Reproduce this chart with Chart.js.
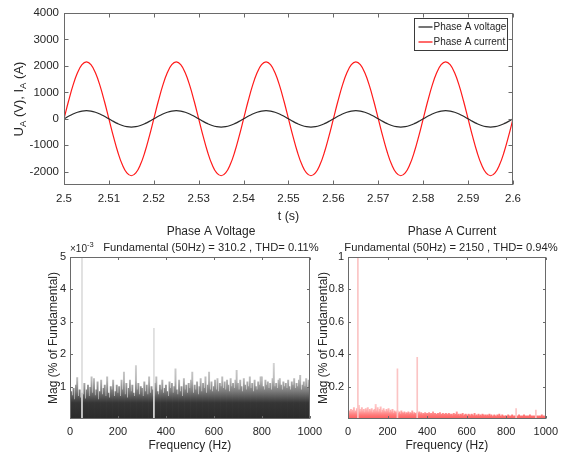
<!DOCTYPE html>
<html>
<head>
<meta charset="utf-8">
<script src="https://cdn.jsdelivr.net/npm/chart.js@4.4.1/dist/chart.umd.min.js"></script>
<style>
  html, body { margin: 0; padding: 0; background: #fff; }
  body { width: 564px; height: 453px; position: relative; overflow: hidden; }
  canvas { position: absolute; }
  #wave  { left: 0;     top: 0; }
  #specU { left: 0;     top: 218px; }
  #specI { left: 316px; top: 218px; }
</style>
</head>
<body>
<canvas id="wave" width="564" height="228" style="width:564px;height:228px"></canvas>
<canvas id="specU" width="328" height="235" style="width:328px;height:235px"></canvas>
<canvas id="specI" width="248" height="235" style="width:248px;height:235px"></canvas>
<script>
// ---- time domain, sampled every 1 ms from t = 2.5 s ----
const tStart = 2.5, tStep = 0.001;
const voltageWave = [
  0, 96, 182, 251, 295, 310, 295, 251, 182, 96, 0, -96, -182, -251, -295, -310, -295, -251, -182, -96,
  0, 96, 182, 251, 295, 310, 295, 251, 182, 96, 0, -96, -182, -251, -295, -310, -295, -251, -182, -96,
  0, 96, 182, 251, 295, 310, 295, 251, 182, 96, 0, -96, -182, -251, -295, -310, -295, -251, -182, -96,
  0, 96, 182, 251, 295, 310, 295, 251, 182, 96, 0, -96, -182, -251, -295, -310, -295, -251, -182, -96,
  0, 96, 182, 251, 295, 310, 295, 251, 182, 96, 0, -96, -182, -251, -295, -310, -295, -251, -182, -96,
  0
];
const currentWave = [
  0, 664, 1264, 1739, 2045, 2150, 2045, 1739, 1264, 664, 0, -664, -1264, -1739, -2045, -2150, -2045, -1739, -1264, -664,
  0, 664, 1264, 1739, 2045, 2150, 2045, 1739, 1264, 664, 0, -664, -1264, -1739, -2045, -2150, -2045, -1739, -1264, -664,
  0, 664, 1264, 1739, 2045, 2150, 2045, 1739, 1264, 664, 0, -664, -1264, -1739, -2045, -2150, -2045, -1739, -1264, -664,
  0, 664, 1264, 1739, 2045, 2150, 2045, 1739, 1264, 664, 0, -664, -1264, -1739, -2045, -2150, -2045, -1739, -1264, -664,
  0, 664, 1264, 1739, 2045, 2150, 2045, 1739, 1264, 664, 0, -664, -1264, -1739, -2045, -2150, -2045, -1739, -1264, -664,
  0
];
const timeTicks = [2.5, 2.51, 2.52, 2.53, 2.54, 2.55, 2.56, 2.57, 2.58, 2.59, 2.6];
const timeTickLabels = ['2.5', '2.51', '2.52', '2.53', '2.54', '2.55', '2.56', '2.57', '2.58', '2.59', '2.6'];
const waveTicks = [-2000, -1000, 0, 1000, 2000, 3000, 4000];

// ---- spectra: 5 Hz bins from 0 to 995 Hz ----
const binStep = 5;
// voltage noise floor, % of fundamental, in units of 1e-3
const voltNoiseE3 = [
  1.35, 0.85, 0.72, 0.95, 0.60, 1.05, 1.28, 0.70, 0.90, 0.65, 0.80, 0.75, 1.10, 0.62, 0.90, 1.05, 0.70, 0.98, 1.30, 0.80,
  1.25, 0.72, 0.90, 1.15, 0.60, 0.85, 1.20, 0.75, 0.95, 1.05, 0.70, 1.30, 0.80, 0.65, 1.00, 0.90, 1.20, 0.70, 0.85, 1.05,
  0.80, 1.00, 0.70, 1.20, 0.90, 1.45, 0.75, 1.10, 0.65, 0.95, 1.20, 0.85, 1.05, 0.80, 0.70, 1.65, 0.90, 1.10, 0.75, 1.00,
  0.95, 0.70, 1.15, 0.85, 1.05, 0.75, 1.30, 0.80, 1.00, 0.90, 0.70, 1.10, 1.30, 0.85, 0.75, 1.05, 0.90, 1.20, 0.80, 0.95,
  1.05, 0.85, 0.70, 1.15, 0.95, 1.10, 0.80, 1.00, 1.55, 0.90, 0.75, 1.20, 0.85, 1.00, 0.70, 1.25, 0.90, 1.05, 0.80, 1.10,
  0.95, 1.20, 1.45, 0.80, 1.05, 0.90, 1.15, 0.75, 1.00, 1.25, 0.85, 1.10, 0.95, 1.30, 0.80, 1.05, 1.45, 0.90, 1.15, 0.85,
  1.00, 1.20, 0.90, 1.25, 0.85, 1.10, 1.00, 1.30, 0.95, 1.15, 0.90, 1.20, 1.05, 0.85, 1.25, 1.00, 1.10, 0.95, 1.20, 1.50,
  1.10, 0.90, 1.20, 1.00, 0.85, 1.25, 1.05, 0.90, 1.15, 1.00, 1.30, 0.95, 1.10, 0.85, 1.20, 1.00, 0.90, 1.15, 1.05, 1.30,
  1.30, 1.00, 0.90, 1.20, 1.05, 1.15, 0.95, 1.10, 0.90, 1.25, 1.72, 1.00, 1.10, 0.95, 1.20, 1.25, 1.05, 0.90, 1.15, 1.00,
  1.10, 0.95, 1.20, 1.00, 0.90, 1.15, 1.05, 1.25, 0.95, 1.10, 1.00, 1.20, 1.35, 0.90, 1.05, 1.15, 1.00, 1.25, 0.95, 1.20
];
const voltHarmFreq = [50, 350];
const voltHarmE3 = [100000, 2.8];
const voltTicks = [1, 2, 3, 4, 5];

// current noise floor, % of fundamental
const curNoise = [
  0.040, 0.050, 0.035, 0.060, 0.045, 0.055, 0.070, 0.040, 0.050, 0.065, 0.050, 0.085, 0.060, 0.045, 0.070, 0.050, 0.060, 0.040, 0.065, 0.055,
  0.070, 0.045, 0.060, 0.050, 0.065, 0.040, 0.055, 0.060, 0.090, 0.050, 0.070, 0.045, 0.060, 0.075, 0.040, 0.055, 0.065, 0.050, 0.045, 0.060,
  0.050, 0.065, 0.040, 0.055, 0.045, 0.060, 0.035, 0.050, 0.045, 0.040, 0.050, 0.035, 0.045, 0.030, 0.050, 0.040, 0.035, 0.045, 0.030, 0.040,
  0.035, 0.045, 0.030, 0.040, 0.035, 0.050, 0.030, 0.040, 0.035, 0.030, 0.040, 0.035, 0.045, 0.030, 0.040, 0.025, 0.035, 0.030, 0.040, 0.030,
  0.035, 0.030, 0.040, 0.025, 0.035, 0.030, 0.045, 0.025, 0.035, 0.030, 0.025, 0.035, 0.030, 0.040, 0.025, 0.030, 0.035, 0.025, 0.030, 0.035,
  0.030, 0.025, 0.035, 0.030, 0.025, 0.030, 0.020, 0.035, 0.025, 0.030, 0.045, 0.025, 0.030, 0.020, 0.030, 0.025, 0.035, 0.020, 0.025, 0.030,
  0.025, 0.020, 0.030, 0.025, 0.020, 0.030, 0.025, 0.020, 0.035, 0.020, 0.025, 0.020, 0.030, 0.020, 0.025, 0.020, 0.030, 0.025, 0.020, 0.025,
  0.020, 0.025, 0.020, 0.030, 0.020, 0.025, 0.015, 0.020, 0.025, 0.020, 0.015, 0.025, 0.020, 0.030, 0.020, 0.015, 0.025, 0.020, 0.015, 0.020,
  0.020, 0.015, 0.025, 0.020, 0.015, 0.020, 0.025, 0.015, 0.020, 0.015, 0.020, 0.015, 0.020, 0.025, 0.015, 0.020, 0.015, 0.020, 0.025, 0.015,
  0.020, 0.015, 0.020, 0.015, 0.025, 0.015, 0.020, 0.015, 0.020, 0.015, 0.020, 0.015, 0.020, 0.015, 0.020, 0.015, 0.025, 0.015, 0.020, 0.015
];
const curHarmFreq = [50, 250, 350, 850, 950];
const curHarm = [100, 0.31, 0.38, 0.065, 0.055];
const curTicks = [0.2, 0.4, 0.6, 0.8, 1];
const curTickLabels = ['0.2', '0.4', '0.6', '0.8', '1'];
const freqTicks = [0, 200, 400, 600, 800, 1000];

const FONT = "'Liberation Sans', Arial, Helvetica, sans-serif";
const INK = '#262626';
Chart.defaults.font.family = FONT;
Chart.defaults.color = INK;

const pts = (xs, ys) => ys.map((y, i) => ({ x: xs[i], y }));
const tSamples = voltageWave.map((_, i) => +(tStart + i * tStep).toFixed(3));
const fBins = voltNoiseE3.map((_, i) => i * binStep);

// axes box with inward tick marks on all four sides
const frame = {
  id: 'frame',
  afterDatasetsDraw(chart, args, o) {
    const { ctx, chartArea: a, scales: { x, y } } = chart;
    const L = Math.round(a.left) + 0.5, R = Math.round(a.right) - 0.5;
    const T = Math.round(a.top) + 0.5, B = Math.round(a.bottom) - 0.5;
    ctx.save();
    ctx.strokeStyle = o.color;
    ctx.lineWidth = 1;
    ctx.strokeRect(L, T, R - L, B - T);
    ctx.beginPath();
    x.ticks.forEach(t => {
      const px = Math.round(x.getPixelForValue(t.value)) + 0.5;
      ctx.moveTo(px, B); ctx.lineTo(px, B - o.len);
      ctx.moveTo(px, T); ctx.lineTo(px, T + o.len);
    });
    y.ticks.forEach(t => {
      const py = Math.round(y.getPixelForValue(t.value)) + 0.5;
      ctx.moveTo(L, py); ctx.lineTo(L + o.len, py);
      ctx.moveTo(R, py); ctx.lineTo(R - o.len, py);
    });
    ctx.stroke();
    ctx.restore();
  }
};

// free text placed relative to the canvas; parts may be sub/superscripted
const notes = {
  id: 'notes',
  afterDraw(chart, args, o) {
    const ctx = chart.ctx;
    ctx.save();
    ctx.fillStyle = INK;
    (o.items || []).forEach(it => {
      let w = 0;
      it.parts.forEach(p => { ctx.font = p.size + 'px ' + FONT; w += ctx.measureText(p.text).width; });
      ctx.save();
      ctx.translate(it.x, it.y);
      if (it.rotate) ctx.rotate(-Math.PI / 2);
      ctx.textBaseline = 'alphabetic';
      let cx = it.align === 'left' ? 0 : -w / 2;
      it.parts.forEach(p => {
        ctx.font = p.size + 'px ' + FONT;
        ctx.fillText(p.text, cx, p.dy || 0);
        cx += ctx.measureText(p.text).width;
      });
      ctx.restore();
    });
    ctx.restore();
  }
};

// legend box in the upper right of the waveform axes
const waveLegend = {
  id: 'waveLegend',
  afterDraw(chart) {
    const { ctx, chartArea: a } = chart;
    const w = 93, h = 32;
    const x0 = Math.round(a.right - 6 - w) + 0.5, y0 = Math.round(a.top + 5) + 0.5;
    ctx.save();
    ctx.fillStyle = '#fff';
    ctx.fillRect(x0, y0, w, h);
    ctx.strokeStyle = '#3a3a3a';
    ctx.lineWidth = 1;
    ctx.strokeRect(x0, y0, w, h);
    ctx.font = '10px ' + FONT;
    ctx.textBaseline = 'middle';
    chart.data.datasets.forEach((ds, i) => {
      const yy = y0 + 8.5 + i * 15;
      ctx.strokeStyle = ds.borderColor;
      ctx.lineWidth = 1.3;
      ctx.beginPath();
      ctx.moveTo(x0 + 4, yy); ctx.lineTo(x0 + 18, yy);
      ctx.stroke();
      ctx.fillStyle = INK;
      ctx.fillText(ds.label, x0 + 19, yy + 0.5);
    });
    ctx.restore();
  }
};

function noiseFill(stops) {
  return c => {
    const chart = c.chart, ys = chart.scales.y;
    if (!chart.chartArea || !ys) return stops[0][1];
    const top = stops[stops.length - 1][0];
    const g = chart.ctx.createLinearGradient(0, ys.getPixelForValue(0), 0, ys.getPixelForValue(top));
    stops.forEach(([v, col]) => g.addColorStop(v / top, col));
    return g;
  };
}

const setTicks = vals => s => { s.ticks = vals.map(v => ({ value: v })); };

// ---------- waveform ----------
new Chart(document.getElementById('wave'), {
  type: 'line',
  data: {
    datasets: [
      { label: 'Phase A voltage', data: pts(tSamples, voltageWave), borderColor: '#2b2b2b', borderWidth: 1.2 },
      { label: 'Phase A current', data: pts(tSamples, currentWave), borderColor: '#ff1a1a', borderWidth: 1.2 }
    ]
  },
  options: {
    responsive: false,
    animation: false,
    elements: { point: { radius: 0 }, line: { tension: 0.4 } },
    layout: { padding: { left: 0, right: 51, top: 13, bottom: 0 } },
    scales: {
      x: {
        type: 'linear', min: 2.5, max: 2.6,
        afterBuildTicks: setTicks(timeTicks),
        afterFit: s => { s.height = 43; },
        grid: { display: false, drawTicks: false },
        border: { display: false },
        ticks: { autoSkip: false, maxRotation: 0, padding: 7, font: { size: 11.5 }, color: INK,
                 callback: (v, i) => timeTickLabels[i] },
        title: { display: true, text: 't (s)', font: { size: 12.5 }, color: INK, padding: { top: 0, bottom: 4 } }
      },
      y: {
        min: -2500, max: 4000,
        afterBuildTicks: setTicks(waveTicks),
        afterFit: s => { s.width = 64; },
        grid: { display: false, drawTicks: false },
        border: { display: false },
        ticks: { padding: 5, font: { size: 11.5 }, color: INK, callback: v => String(v) }
      }
    },
    plugins: {
      legend: { display: false },
      tooltip: { enabled: false },
      frame: { color: '#6a6a6a', len: 4 },
      notes: { items: [
        { x: 23, y: 99, rotate: true, parts: [
          { text: 'U', size: 13 }, { text: 'A', size: 9.5, dy: 3 },
          { text: ' (V), I', size: 13 }, { text: 'A', size: 9.5, dy: 3 }, { text: ' (A)', size: 13 }
        ] }
      ] }
    }
  },
  plugins: [frame, notes, waveLegend]
});

// ---------- spectrum charts ----------
function spectrum(id, cfg) {
  return new Chart(document.getElementById(id), {
    type: 'bar',
    data: {
      datasets: [
        { data: pts(cfg.harmFreq, cfg.harm), backgroundColor: cfg.harmColor, barThickness: 1, grouped: false },
        { data: pts(fBins, cfg.noise), backgroundColor: noiseFill(cfg.stops), barThickness: 1.3, grouped: false }
      ]
    },
    options: {
      responsive: false,
      animation: false,
      layout: { padding: cfg.padding },
      scales: {
        x: {
          type: 'linear', min: 0, max: 1000, offset: false,
          afterBuildTicks: setTicks(freqTicks),
          afterFit: s => { s.height = 34; },
          grid: { display: false, drawTicks: false },
          border: { display: false },
          ticks: { autoSkip: false, maxRotation: 0, padding: 6, font: { size: 11 }, color: INK, callback: v => String(v) },
          title: { display: true, text: 'Frequency (Hz)', font: { size: 12 }, color: INK, padding: { top: 0, bottom: 0 } }
        },
        y: {
          min: 0, max: cfg.yMax,
          afterBuildTicks: setTicks(cfg.yTicks),
          afterFit: s => { s.width = cfg.yWidth; },
          grid: { display: false, drawTicks: false },
          border: { display: false },
          ticks: { padding: 4, font: { size: 11 }, color: INK, callback: (v, i) => cfg.yLabels[i] },
          title: { display: true, text: 'Mag (% of Fundamental)', font: { size: 12 }, color: INK, padding: { top: cfg.yTitlePad, bottom: 0 } }
        }
      },
      plugins: {
        legend: { display: false },
        tooltip: { enabled: false },
        frame: { color: '#6a6a6a', len: 2.5 },
        notes: { items: cfg.notes }
      }
    },
    plugins: [frame, notes]
  });
}

spectrum('specU', {
  harmFreq: voltHarmFreq, harm: voltHarmE3, noise: voltNoiseE3,
  harmColor: '#dcdcdc',
  stops: [[0, '#2a2a2a'], [0.5, '#353535'], [0.85, '#7a7a7a'], [1.2, '#b8b8b8'], [1.8, '#d8d8d8']],
  yMax: 5, yTicks: voltTicks, yLabels: voltTicks.map(String), yWidth: 30, yTitlePad: 6,
  padding: { left: 40, right: 16, top: 39, bottom: 0 },
  notes: [
    { x: 211, y: 17, parts: [{ text: 'Phase A Voltage', size: 12 }] },
    { x: 211, y: 33, parts: [{ text: 'Fundamental (50Hz) = 310.2 , THD= 0.11%', size: 11.2 }] },
    { x: 70, y: 34, align: 'left', parts: [{ text: '\u00d710', size: 10 }, { text: '-3', size: 7.5, dy: -5 }] }
  ]
});

spectrum('specI', {
  harmFreq: curHarmFreq, harm: curHarm, noise: curNoise,
  harmColor: '#fbc4c4',
  stops: [[0, '#ff5a5a'], [0.025, '#ff7a7a'], [0.05, '#ffaaaa'], [0.1, '#ffd4d4']],
  yMax: 1, yTicks: curTicks, yLabels: curTickLabels, yWidth: 32, yTitlePad: 0,
  padding: { left: 0, right: 13, top: 39, bottom: 0 },
  notes: [
    { x: 136, y: 17, parts: [{ text: 'Phase A Current', size: 12 }] },
    { x: 135, y: 33, parts: [{ text: 'Fundamental (50Hz) = 2150 , THD= 0.94%', size: 11.2 }] }
  ]
});
</script>
</body>
</html>
